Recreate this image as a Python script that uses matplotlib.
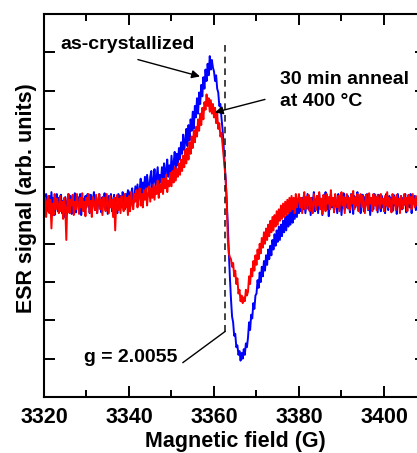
import matplotlib
matplotlib.use("Agg")
import matplotlib.pyplot as plt
import numpy as np

plt.rcParams['font.family'] = ['Liberation Sans', 'DejaVu Sans']
plt.rcParams['font.weight'] = 'bold'

# magnetic field grid (G), 0.25 G steps
field_start = 3320.0
field_step = 0.25

# ESR signal, as-crystallized (blue)
as_cryst = [
    0.15, -0.2, 0.3, 0.05, -0.15, 0.25, -0.05, 0.35,
    -0.1, 0.2, -0.25, 0.1, 0.3, -0.15, 0.2, 0.0,
    0.28, -0.2, 0.12, -0.3, 0.22, 0.05, -0.12, 0.3,
    0.0, 0.25, -0.22, 0.15, -0.05, 0.32, -0.18, 0.1,
    0.22, -0.1, 0.3, -0.25, 0.08, 0.18, -0.15, 0.25,
    -0.05, 0.3, 0.1, -0.2, 0.28, -0.08, 0.15, 0.35,
    -0.12, 0.2, -0.2, 0.1, 0.3, 0.0, -0.18, 0.22,
    0.05, 0.32, -0.1, 0.18, -0.22, 0.25, 0.02, 0.3,
    -0.15, 0.12, 0.28, -0.1, 0.2, -0.2, 0.3, 0.08,
    0.25, -0.05, 0.35, 0.1, -0.1, 0.3, 0.15, 0.4,
    0.35, -0.05, 0.3, 0.45, 0.05, 0.2, 0.5, 0.15,
    0.55, 0.2, 0.4, 0.7, 0.25, 0.6, 0.35, 0.75,
    0.35, 0.8, 0.55, 0.3, 0.75, 0.9, 0.4, 0.65,
    0.95, 0.5, 0.75, 1.0, 0.45, 0.8, 0.6, 1.0,
    0.7, 1.1, 0.6, 0.95, 1.2, 0.75, 1.05, 0.8,
    1.3, 0.85, 1.1, 1.4, 0.95, 1.35, 1.05, 1.5,
    1.2, 1.65, 1.35, 1.85, 1.45, 1.7, 2.0, 1.55,
    2.1, 1.7, 2.25, 1.95, 2.45, 2.0, 2.6, 2.3,
    2.8, 2.4, 2.95, 2.65, 3.15, 2.85, 3.35, 3.05,
    3.55, 3.25, 3.7, 3.4, 3.9, 3.55, 3.8, 3.6,
    3.5, 3.25, 3.4, 3.05, 2.95, 2.6, 2.65, 2.3,
    2.0, 1.6, 1.1, 0.7, 0.1, -0.5, -1.25, -1.9,
    -2.45, -2.9, -3.05, -3.4, -3.35, -3.7, -3.65, -3.9,
    -3.8, -4.05, -3.85, -4.0, -3.75, -3.9, -3.6, -3.7,
    -3.45, -3.05, -3.25, -2.85, -2.95, -2.55, -2.7, -2.35,
    -2.3, -1.95, -2.15, -1.75, -2.0, -1.6, -1.85, -1.45,
    -1.7, -1.3, -1.55, -1.15, -1.4, -1.05, -1.3, -0.9,
    -1.15, -0.75, -1.05, -0.65, -0.95, -0.55, -0.9, -0.5,
    -0.8, -0.4, -0.7, -0.3, -0.65, -0.25, -0.55, -0.15,
    -0.5, -0.1, -0.45, 0.0, -0.35, 0.05, -0.3, 0.1,
    -0.2, 0.1, -0.15, 0.2, -0.1, 0.25, -0.2, 0.05,
    0.3, -0.1, 0.15, -0.25, 0.2, 0.05, 0.35, -0.15,
    0.1, 0.25, -0.2, 0.3, -0.05, 0.15, -0.25, 0.2,
    0.0, 0.35, -0.1, 0.22, -0.28, 0.12, 0.3, -0.05,
    0.2, -0.15, 0.28, 0.05, -0.2, 0.3, -0.08, 0.18,
    -0.25, 0.15, 0.32, -0.1, 0.2, -0.05, 0.25, 0.0,
    -0.18, 0.3, 0.1, -0.22, 0.25, -0.05, 0.18, 0.35,
    -0.1, 0.2, -0.2, 0.12, 0.28, -0.15, 0.22, 0.02,
    0.3, -0.12, 0.15, -0.25, 0.2, 0.08, -0.1, 0.3,
    0.0, 0.22, -0.18, 0.28, 0.1, -0.15, 0.25, -0.05,
    0.18, -0.2, 0.3, 0.05, -0.12, 0.25, -0.02, 0.2,
    -0.15, 0.28, 0.0, 0.15, -0.22, 0.3, 0.1, -0.08,
    0.25, -0.1, 0.2, 0.02, 0.3, -0.18, 0.12, 0.22,
    -0.05, 0.3, -0.2, 0.15, 0.05, 0.25, -0.12, 0.18,
    0.0, 0.28, -0.15, 0.2, 0.08, -0.1, 0.25, 0.05,
    0.1,
]

# ESR signal after 30 min anneal at 400 C (red)
annealed = [
    -0.1, 0.2, -0.3, 0.1, 0.25, -0.2, 0.15, -0.6,
    0.05, -0.25, 0.3, -0.1, 0.18, 0.0, -0.2, 0.25,
    -0.15, 0.1, -0.35, 0.2, -0.05, -0.9, 0.12, 0.3,
    -0.2, 0.15, 0.0, 0.28, -0.25, 0.1, -0.1, 0.3,
    0.05, -0.22, 0.2, -0.05, 0.32, -0.15, 0.1, -0.28,
    0.2, 0.0, 0.3, -0.18, 0.12, -0.3, 0.22, 0.05,
    -0.12, 0.28, -0.2, 0.1, 0.3, -0.1, 0.15, -0.25,
    0.22, 0.0, -0.15, 0.3, 0.05, -0.2, 0.25, -0.05,
    0.15, -0.3, 0.2, -0.65, 0.1, 0.28, -0.12, 0.18,
    -0.2, 0.25, 0.0, -0.15, 0.3, -0.05, 0.2, -0.25,
    0.25, -0.15, 0.35, 0.05, -0.1, 0.3, 0.1, 0.4,
    -0.05, 0.25, 0.45, 0.0, 0.3, -0.05, 0.4, 0.15,
    0.45, 0.0, 0.3, 0.5, 0.1, 0.45, 0.2, 0.55,
    0.15, 0.5, 0.3, 0.65, 0.2, 0.55, 0.35, 0.7,
    0.3, 0.7, 0.45, 0.8, 0.35, 0.65, 0.5, 0.85,
    0.5, 0.9, 0.6, 1.0, 0.65, 0.95, 0.75, 1.1,
    0.8, 1.2, 0.9, 1.3, 1.0, 1.45, 1.1, 1.5,
    1.2, 1.65, 1.35, 1.8, 1.5, 1.95, 1.65, 2.05,
    1.8, 2.25, 1.95, 2.4, 2.1, 2.55, 2.25, 2.7,
    2.5, 2.9, 2.6, 2.8, 2.45, 2.75, 2.4, 2.65,
    2.3, 2.55, 2.15, 2.4, 2.0, 2.15, 1.8, 1.9,
    1.6, 1.3, 1.0, 0.65, 0.1, -0.9, -1.25, -1.35,
    -1.4, -1.6, -1.5, -1.85, -1.7, -2.05, -1.9, -2.3,
    -2.2, -2.5, -2.35, -2.55, -2.4, -2.5, -2.2, -2.35,
    -2.25, -1.85, -2.05, -1.65, -1.85, -1.45, -1.7, -1.3,
    -1.55, -1.15, -1.4, -1.0, -1.25, -0.85, -1.1, -0.7,
    -1.0, -0.6, -0.9, -0.5, -0.8, -0.4, -0.7, -0.3,
    -0.65, -0.25, -0.55, -0.15, -0.5, -0.1, -0.4, 0.0,
    -0.35, 0.05, -0.3, 0.1, -0.25, 0.15, -0.2, 0.2,
    -0.15, 0.25, -0.1, 0.2, -0.2, 0.3, -0.05, 0.15,
    0.3, -0.05, 0.2, -0.2, 0.15, 0.35, -0.1, 0.22,
    0.0, 0.28, -0.15, 0.2, 0.05, -0.2, 0.3, 0.1,
    -0.12, 0.25, 0.0, 0.35, -0.1, 0.18, -0.22, 0.28,
    0.08, -0.15, 0.3, 0.05, 0.22, -0.1, 0.4, 0.0,
    0.2, -0.18, 0.3, 0.1, -0.05, 0.25, -0.15, 0.2,
    0.35, 0.0, 0.22, -0.2, 0.15, 0.3, -0.08, 0.2,
    -0.12, 0.28, 0.05, 0.38, -0.1, 0.2, 0.0, 0.3,
    -0.15, 0.18, 0.3, -0.05, 0.25, 0.02, -0.2, 0.28,
    0.1, -0.1, 0.32, 0.05, 0.2, -0.15, 0.3, 0.0,
    0.22, -0.12, 0.28, 0.1, -0.08, 0.3, 0.05, 0.18,
    -0.15, 0.25, 0.0, 0.35, -0.05, 0.2, 0.1, -0.18,
    0.3, 0.05, 0.22, -0.12, 0.28, 0.0, 0.18, -0.2,
    0.25, 0.1, -0.08, 0.3, 0.02, 0.2, -0.15, 0.28,
    0.05, 0.22, -0.1, 0.3, 0.12, -0.05, 0.25, 0.0,
    0.18, -0.12, 0.28, 0.05, 0.2, -0.08, 0.3, 0.1,
    0.05,
]

g_field = 3362.6
x_ticks = [3320, 3340, 3360, 3380, 3400]

field = field_start + field_step * np.arange(len(as_cryst))

fig = plt.figure(figsize=(4.17, 4.53), dpi=100)
ax = fig.add_axes([44/417, 56/453, 382.5/417, 383/453])

ax.plot(field, as_cryst, color='#0000ff', lw=1.4)
ax.plot(field, annealed, color='#ff0000', lw=1.4)

ax.set_xlim(3320, 3410)
ax.set_ylim(-5, 5)
ax.set_xticks(x_ticks)
ax.set_xticks(np.arange(3330, 3410, 20), minor=True)
ax.set_yticks(np.arange(-5, 6, 1))
ax.set_yticklabels([])
ax.tick_params(which='both', direction='in', width=1.4, top=True, right=True)
ax.tick_params(which='major', length=8, labelsize=15.5, pad=7)
ax.tick_params(which='minor', length=5)
for s in ax.spines.values():
    s.set_linewidth(1.5)

ax.set_xlabel('Magnetic field (G)', fontsize=15.5, fontweight='bold', labelpad=2)
ax.set_ylabel('ESR signal (arb. units)', fontsize=15.5, fontweight='bold')
ax.yaxis.set_label_coords(-0.018, 0.52)

# g-value marker
ax.plot([g_field, g_field], [4.2, -3.29], color='#222222', lw=1.2, ls=(0, (4, 3)))
ax.plot([g_field, 3352.7], [-3.29, -4.1], color='black', lw=1.0)
ax.text(3351.3, -3.97, 'g = 2.0055', fontsize=14, fontweight='bold', ha='right', va='center')

ax.text(3323.8, 4.2, 'as-crystallized', fontsize=14, fontweight='bold', ha='left', va='center')
ax.annotate('', xy=(3356.7, 3.37), xytext=(3342.1, 3.81),
            arrowprops=dict(arrowstyle='-|>', color='black', lw=1.0, shrinkA=0, shrinkB=0,
                            mutation_scale=12))
ax.text(3375.5, 3.0, '30 min anneal\nat 400 °C', fontsize=14, fontweight='bold',
        ha='left', va='center', linespacing=1.35)
ax.annotate('', xy=(3360.2, 2.43), xytext=(3372.0, 2.77),
            arrowprops=dict(arrowstyle='-|>', color='black', lw=1.0, shrinkA=0, shrinkB=0,
                            mutation_scale=12))

fig.savefig('out.png', dpi=100)
